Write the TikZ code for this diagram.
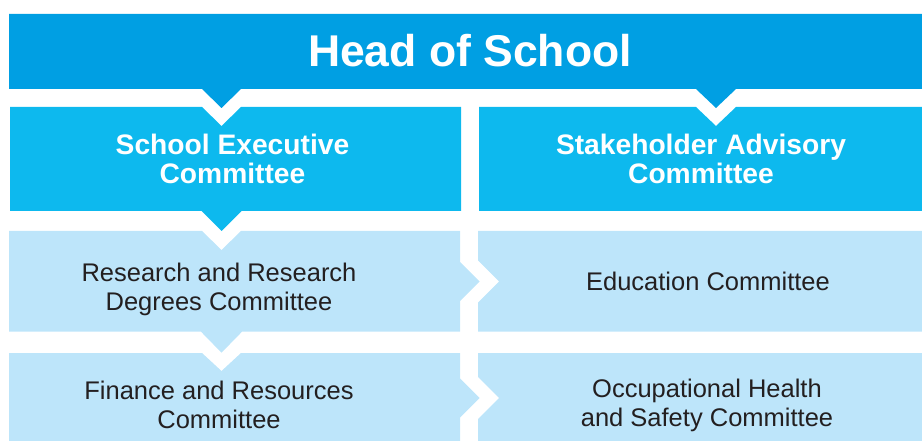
\documentclass[tikz,border=0pt]{standalone}
\usepackage{fontspec}
\setmainfont{Liberation Sans}
\definecolor{headblue}{HTML}{009FE3}
\definecolor{midblue}{HTML}{0DB9EE}
\definecolor{paleblue}{HTML}{BDE5FA}
\definecolor{bodytext}{HTML}{231F20}
\begin{document}
\begin{tikzpicture}[x=1pt,y=-1pt,
  headfill/.style={fill=headblue},
  execfill/.style={fill=midblue},
  subfill/.style={fill=paleblue},
  headtext/.style={text=white,font=\fontsize{44.5}{48}\selectfont\bfseries,inner sep=0pt},
  exectext/.style={text=white,font=\fontsize{28.2}{29}\selectfont\bfseries,align=center,inner sep=0pt},
  subtext/.style={text=bodytext,font=\fontsize{25.5}{29}\selectfont,align=center,inner sep=0pt}]
\useasboundingbox (0,0) rectangle (922,441);
\begin{scope}
\clip (0,0) rectangle (922,441);
% top banner with two downward tabs
\path[headfill] (9,14) -- (922,14) -- (922,89) -- (736,89) -- (716,108) -- (696,89)
  -- (241,89) -- (221.5,108) -- (202,89) -- (9,89) -- cycle;
% executive committee: notched top, tab below
\path[execfill] (10,107) -- (202,107) -- (221.5,126) -- (241,107) -- (461,107)
  -- (461,211) -- (241.5,211) -- (221.5,231) -- (201.5,211) -- (10,211) -- cycle;
% advisory committee: notched top
\path[execfill] (479,107) -- (696,107) -- (716,126) -- (736,107) -- (922,107)
  -- (922,211) -- (479,211) -- cycle;
% research committee: notched top, tabs to the right and below
\path[subfill] (9,231) -- (202,231) -- (221.5,250) -- (241,231) -- (460,231)
  -- (460,262) -- (479.5,281.5) -- (460,301) -- (460,331.7) -- (242,331.7)
  -- (221.5,352.7) -- (201,331.7) -- (9,331.7) -- cycle;
% education committee: notched left side
\path[subfill] (478,231) -- (922,231) -- (922,331.7) -- (478,331.7) -- (478,302.5)
  -- (499,281.5) -- (478,260.5) -- cycle;
% finance committee: notched top, tab to the right
\path[subfill] (9,353) -- (202,353) -- (221.5,371) -- (241,353) -- (460,353)
  -- (460,378.5) -- (479.5,398) -- (460,417.5) -- (460,445) -- (9,445) -- cycle;
% health and safety committee: notched left side
\path[subfill] (478,353) -- (922,353) -- (922,445) -- (478,445) -- (478,419)
  -- (499,398) -- (478,377) -- cycle;
\end{scope}
\node[headtext] (head) at (470,51) {Head of School};
\node[exectext] (exec) at (232.5,159) {School Executive\\Committee};
\node[exectext] (advisory) at (701,159) {Stakeholder Advisory\\Committee};
\node[subtext] (research) at (219,289) {Research and Research\\Degrees Committee};
\node[subtext] (education) at (708,281) {Education Committee};
\node[subtext] (finance) at (219,405) {Finance and Resources\\Committee};
\node[subtext] (safety) at (707,405) {Occupational Health\\and Safety Committee};
\end{tikzpicture}
\end{document}
